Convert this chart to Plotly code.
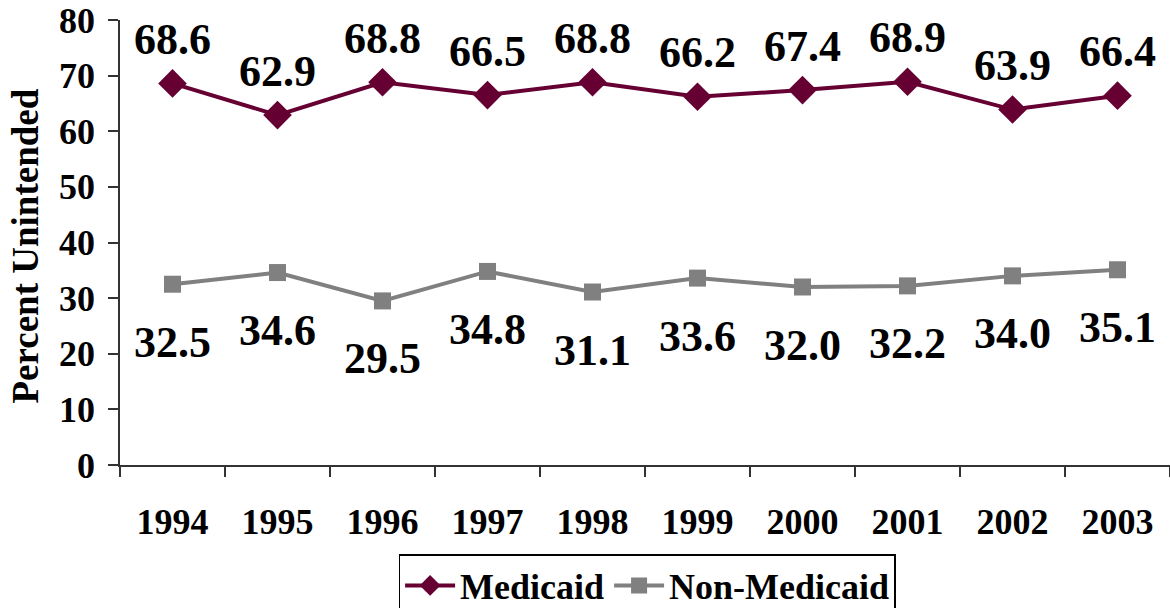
import plotly.graph_objects as go

years = ["1994", "1995", "1996", "1997", "1998", "1999", "2000", "2001", "2002", "2003"]
medicaid = [68.6, 62.9, 68.8, 66.5, 68.8, 66.2, 67.4, 68.9, 63.9, 66.4]
non_medicaid = [32.5, 34.6, 29.5, 34.8, 31.1, 33.6, 32.0, 32.2, 34.0, 35.1]
y_ticks = [0, 10, 20, 30, 40, 50, 60, 70, 80]
y_title = "Percent Unintended"

FONT = "Liberation Serif, Times New Roman, serif"
MED_COLOR = "#660033"
NON_COLOR = "#808080"

fig = go.Figure()
fig.add_trace(go.Scatter(
    x=years, y=medicaid, name="<b>Medicaid</b>", mode="lines+markers",
    line=dict(color=MED_COLOR, width=4),
    marker=dict(symbol="diamond", size=22, color=MED_COLOR),
))
fig.add_trace(go.Scatter(
    x=years, y=non_medicaid, name="<b>Non-Medicaid</b>", mode="lines+markers",
    line=dict(color=NON_COLOR, width=4),
    marker=dict(symbol="square", size=17, color=NON_COLOR),
))

for i, v in enumerate(medicaid):
    fig.add_annotation(x=i, y=v, xref="x", yref="y", text=f"<b>{v:.1f}</b>",
                       showarrow=False, yshift=44,
                       font=dict(family=FONT, size=44, color="black"))
for i, v in enumerate(non_medicaid):
    fig.add_annotation(x=i, y=v, xref="x", yref="y", text=f"<b>{v:.1f}</b>",
                       showarrow=False, yshift=-58,
                       font=dict(family=FONT, size=44, color="black"))

# y-axis title
fig.add_annotation(xref="paper", yref="paper", x=0, y=0.5, text=f"<b>{y_title}</b>",
                   textangle=-90, showarrow=False, xanchor="center", yanchor="middle",
                   xshift=-95, yshift=-4,
                   font=dict(family=FONT, size=37, color="black"))

fig.update_layout(
    width=1170, height=608,
    margin=dict(l=120, r=0, t=20, b=143, autoexpand=False),
    paper_bgcolor="white", plot_bgcolor="white",
    font=dict(family=FONT, color="black"),
    showlegend=True,
    legend=dict(
        orientation="h", x=0.502, xanchor="center", y=-0.20, yanchor="top",
        bordercolor="black", borderwidth=1.5,
        font=dict(family=FONT, size=36, color="black"),
        itemwidth=50, tracegroupgap=0,
    ),
)
fig.update_xaxes(
    type="category", tickson="boundaries", ticks="outside", ticklen=10,
    tickwidth=1.5, tickcolor="#333", showline=True, linecolor="#333", linewidth=1.5,
    showgrid=False, tickfont=dict(family=FONT, size=36, color="black"),
    ticklabelstandoff=24, range=[-0.5, 9.5], automargin=False,
    tickvals=years, ticktext=[f"<b>{y}</b>" for y in years],
)
fig.update_yaxes(
    range=[0, 80], tickvals=y_ticks, ticktext=[f"<b>{t}</b>" for t in y_ticks],
    ticks="outside", ticklen=10, tickwidth=1.5, tickcolor="#333",
    showline=True, linecolor="#333", linewidth=1.5, showgrid=False, zeroline=False,
    tickfont=dict(family=FONT, size=36, color="black"), ticklabelstandoff=6,
    automargin=False,
)

fig.write_html("out.html", config={"displayModeBar": False},
               post_script="document.body.style.margin='0';document.body.style.padding='0';")
